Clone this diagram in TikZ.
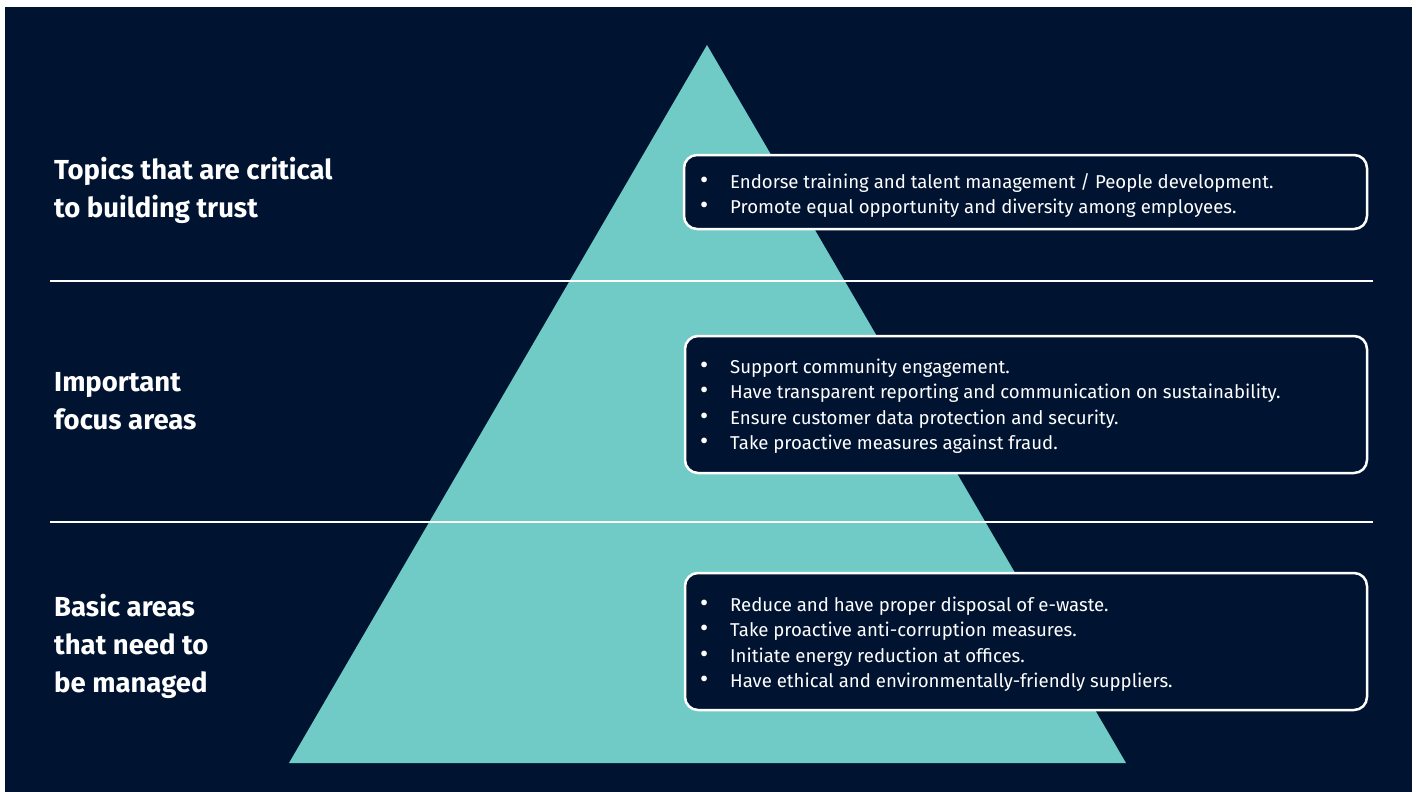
\documentclass[tikz,border=0pt]{standalone}
\usepackage{fontspec}
\setmainfont{Fira Sans}
\usepackage{array}
\usepackage{graphicx}
\definecolor{navy}{HTML}{001432}
\definecolor{teal}{HTML}{70CAC5}
\tikzset{
  x=1pt, y=-1pt,
  tier/.style={font=\fontsize{27.5}{38}\selectfont\bfseries, text=white, anchor=base west, inner sep=0pt, align=left},
  listbox/.style={draw=white, line width=2.5pt, fill=navy, rounded corners=13pt, inner sep=0pt},
  listtext/.style={text=white, anchor=base west, inner sep=0pt},
  divider/.style={draw=white, line width=2pt}
}
\newcommand{\bigbullet}{\scalebox{1.35}{\textbullet}}
\newcommand{\bulletlist}[1]{\fontsize{18.6}{25.5}\selectfont\begin{tabular}[t]{@{}>{\raggedright}p{30pt}@{}l@{}}#1\end{tabular}}
\begin{document}
\begin{tikzpicture}
  % page and dark panel
  \useasboundingbox (0,0) rectangle (1416,792);
  \fill[white] (0,0) rectangle (1416,792);
  \fill[navy] (5,7) rectangle (1412,792);
  % pyramid
  \fill[teal] (707,45) -- (1126,763) -- (289,763) -- cycle;
  % tier dividers
  \draw[divider] (50,281) -- (1373,281);
  \draw[divider] (50,522) -- (1373,522);
  % tier labels (anchored at the baseline of the last line)
  \node[tier] (t1) at (54,217) {Topics that are critical\\to building trust};
  \node[tier] (t2) at (54,429) {Important\\focus areas};
  \node[tier] (t3) at (54,692) {Basic areas\\that need to\\be managed};
  % boxes
  \path[listbox] (684,155) rectangle (1367,229);
  \path[listbox] (685,336) rectangle (1367,473);
  \path[listbox] (685,573) rectangle (1367,710);
  \node[listtext] (l1) at (700,188) {\bulletlist{%
    \bigbullet & Endorse training and talent management / People development.\\
    \bigbullet & Promote equal opportunity and diversity among employees.}};
  \node[listtext] (l2) at (700,373) {\bulletlist{%
    \bigbullet & Support community engagement.\\
    \bigbullet & Have transparent reporting and communication on sustainability.\\
    \bigbullet & Ensure customer data protection and security.\\
    \bigbullet & Take proactive measures against fraud.}};
  \node[listtext] (l3) at (700,611) {\bulletlist{%
    \bigbullet & Reduce and have proper disposal of e-waste.\\
    \bigbullet & Take proactive anti-corruption measures.\\
    \bigbullet & Initiate energy reduction at offices.\\
    \bigbullet & Have ethical and environmentally-friendly suppliers.}};
\end{tikzpicture}
\end{document}
